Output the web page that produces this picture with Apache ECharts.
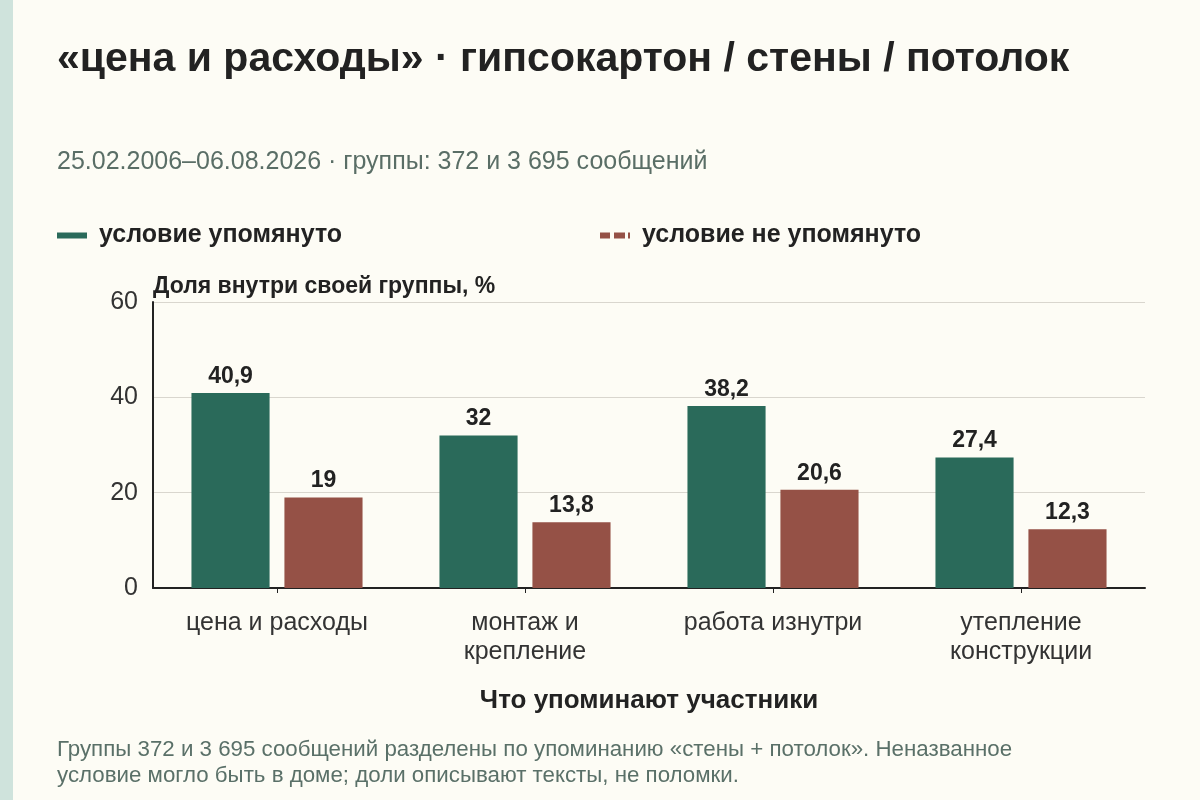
<!DOCTYPE html>
<html>
<head>
<meta charset="utf-8">
<script src="https://cdn.jsdelivr.net/npm/echarts@6/dist/echarts.min.js"></script>
<style>
  html, body { margin: 0; padding: 0; background: #FDFCF5; }
  #chart { width: 1200px; height: 800px; }
</style>
</head>
<body>
<div id="chart"></div>
<script>
// данные графика
const categories = ['цена и расходы', 'монтаж и\nкрепление', 'работа изнутри', 'утепление\nконструкции'];
const mentioned = [40.9, 32, 38.2, 27.4];
const notMentioned = [19, 13.8, 20.6, 12.3];
const seriesNames = ['условие упомянуто', 'условие не упомянуто'];
const yTicks = [0, 20, 40, 60];

const FONT = '"Liberation Sans", Arial, sans-serif';
const GREEN = '#2A6A5A';
const RED = '#955146';

const chart = echarts.init(document.getElementById('chart'));

const fmt = p => String(p.value).replace('.', ',');

chart.setOption({
  backgroundColor: '#FDFCF5',
  textStyle: { fontFamily: FONT },
  graphic: [
    { type: 'rect', left: 0, top: 0, shape: { width: 13, height: 800 }, style: { fill: '#CFE3DC' } }
  ],
  title: [
    {
      text: '«цена и расходы» · гипсокартон / стены / потолок',
      left: 57, top: 39, padding: 0,
      textStyle: { fontSize: 41, fontWeight: 'bold', color: '#222', fontFamily: FONT }
    },
    {
      text: '25.02.2006–06.08.2026 · группы: 372 и 3 695 сообщений',
      left: 57, top: 150, padding: 0,
      textStyle: { fontSize: 25, fontWeight: 'normal', color: '#5A6E66', fontFamily: FONT }
    },
    {
      text: 'Группы 372 и 3 695 сообщений разделены по упоминанию «стены + потолок». Неназванное\nусловие могло быть в доме; доли описывают тексты, не поломки.',
      left: 57, top: 737, padding: 0,
      textStyle: { fontSize: 22.3, fontWeight: 'normal', color: '#5A7068', lineHeight: 26, fontFamily: FONT }
    }
  ],
  legend: [
    {
      left: 57, top: 223, padding: 0,
      itemWidth: 30, itemHeight: 6,
      data: [{ name: seriesNames[0], icon: 'rect' }],
      textStyle: { fontSize: 25, fontWeight: 'bold', color: '#222', padding: [0, 0, 0, 7] },
      selectedMode: false
    },
    {
      left: 600, top: 223, padding: 0,
      itemWidth: 30, itemHeight: 6,
      data: [{ name: seriesNames[1], icon: 'path://M0 0h10v6h-10zM14 0h11v6h-11zM28 0h2v6h-2z' }],
      textStyle: { fontSize: 25, fontWeight: 'bold', color: '#222', padding: [0, 0, 0, 7] },
      selectedMode: false
    }
  ],
  grid: { left: 153, right: 55, top: 302, bottom: 212, containLabel: false },
  xAxis: {
    type: 'category',
    data: categories,
    name: 'Что упоминают участники',
    nameLocation: 'middle',
    nameGap: 100,
    nameTextStyle: { fontSize: 26, fontWeight: 'bold', color: '#222' },
    axisLine: { lineStyle: { color: '#222', width: 2 } },
    axisTick: { show: true, alignWithLabel: true, length: 5, lineStyle: { color: '#222' } },
    axisLabel: { fontSize: 25, color: '#333', margin: 21, lineHeight: 29 }
  },
  yAxis: {
    type: 'value',
    min: yTicks[0], max: yTicks[yTicks.length - 1], interval: 20,
    name: 'Доля внутри своей группы, %',
    nameLocation: 'end',
    nameGap: 4,
    nameTextStyle: { fontSize: 23, fontWeight: 'bold', color: '#222', align: 'left' },
    axisLine: { show: true, lineStyle: { color: '#222', width: 2 } },
    axisTick: { show: false },
    axisLabel: { fontSize: 25, color: '#333', margin: 15 },
    splitLine: { lineStyle: { color: '#D9D6CE', width: 1 } }
  },
  series: [
    {
      name: seriesNames[0], type: 'bar', data: mentioned,
      barWidth: '31.5%', barGap: '19%',
      itemStyle: { color: GREEN },
      label: { show: true, position: 'top', distance: 5, fontSize: 23, fontWeight: 'bold', color: '#222', formatter: fmt }
    },
    {
      name: seriesNames[1], type: 'bar', data: notMentioned,
      barWidth: '31.5%',
      itemStyle: { color: RED },
      label: { show: true, position: 'top', distance: 5, fontSize: 23, fontWeight: 'bold', color: '#222', formatter: fmt }
    }
  ]
});
</script>
</body>
</html>
